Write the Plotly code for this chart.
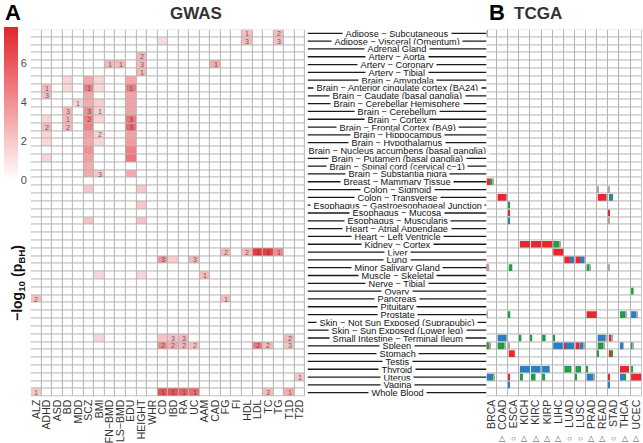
import plotly.graph_objects as go

W, H = 643, 443

tissues = [
    "Adipose − Subcutaneous", "Adipose − Visceral (Omentum)", "Adrenal Gland",
    "Artery − Aorta", "Artery − Coronary", "Artery − Tibial", "Brain − Amygdala",
    "Brain − Anterior cingulate cortex (BA24)", "Brain − Caudate (basal ganglia)",
    "Brain − Cerebellar Hemisphere", "Brain − Cerebellum", "Brain − Cortex",
    "Brain − Frontal Cortex (BA9)", "Brain − Hippocampus", "Brain − Hypothalamus",
    "Brain − Nucleus accumbens (basal ganglia)", "Brain − Putamen (basal ganglia)",
    "Brain − Spinal cord (cervical c−1)", "Brain − Substantia nigra",
    "Breast − Mammary Tissue", "Colon − Sigmoid", "Colon − Transverse",
    "Esophagus − Gastroesophageal Junction", "Esophagus − Mucosa",
    "Esophagus − Muscularis", "Heart − Atrial Appendage", "Heart − Left Ventricle",
    "Kidney − Cortex", "Liver", "Lung", "Minor Salivary Gland", "Muscle − Skeletal",
    "Nerve − Tibial", "Ovary", "Pancreas", "Pituitary", "Prostate",
    "Skin − Not Sun Exposed (Suprapubic)", "Skin − Sun Exposed (Lower leg)",
    "Small Intestine − Terminal Ileum", "Spleen", "Stomach", "Testis", "Thyroid",
    "Uterus", "Vagina", "Whole Blood",
]

gwas_traits = ["ALZ", "ADHD", "ASD", "BD", "MDD", "SCZ", "BMI", "FN−BMD", "LS−BMD",
               "EDU", "HEIGHT", "WHR", "CD", "IBD", "RA", "UC", "AAM", "CAD", "FG",
               "FI", "HDL", "LDL", "TC", "TG", "T1D", "T2D"]

# GWAS significant cells: tissue, trait, -log10(pBH), rank label
cell_tissue = []
cell_trait = []
cell_value = []
cell_label = []

def add(t, tr, v, lab=""):
    cell_tissue.append(t); cell_trait.append(tr); cell_value.append(v); cell_label.append(lab)

add("Adipose − Subcutaneous", "HDL", 2.4, "1"); add("Adipose − Subcutaneous", "TG", 2.4, "2")
add("Adipose − Visceral (Omentum)", "CD", 1.3); add("Adipose − Visceral (Omentum)", "HDL", 2.4, "3")
add("Adipose − Visceral (Omentum)", "TG", 2.2, "3")
add("Artery − Aorta", "HEIGHT", 2.6, "2")
add("Artery − Coronary", "FN−BMD", 2.5, "1"); add("Artery − Coronary", "LS−BMD", 2.5, "1")
add("Artery − Coronary", "HEIGHT", 2.5, "3"); add("Artery − Coronary", "CAD", 3.0, "1")
add("Artery − Tibial", "HEIGHT", 2.6, "1")
add("Brain − Amygdala", "BD", 1.5); add("Brain − Amygdala", "SCZ", 3.2)
add("Brain − Amygdala", "BMI", 1.5); add("Brain − Amygdala", "EDU", 3.2)
add("Brain − Anterior cingulate cortex (BA24)", "ADHD", 2.5, "1")
add("Brain − Anterior cingulate cortex (BA24)", "BD", 1.4)
add("Brain − Anterior cingulate cortex (BA24)", "SCZ", 4.8, "1")
add("Brain − Anterior cingulate cortex (BA24)", "BMI", 1.4)
add("Brain − Anterior cingulate cortex (BA24)", "EDU", 4.8, "1")
add("Brain − Caudate (basal ganglia)", "ADHD", 2.3, "3")
add("Brain − Caudate (basal ganglia)", "SCZ", 3.2)
add("Brain − Caudate (basal ganglia)", "EDU", 3.3)
add("Brain − Cerebellar Hemisphere", "MDD", 1.5, "1")
add("Brain − Cerebellar Hemisphere", "SCZ", 3.0)
add("Brain − Cerebellar Hemisphere", "BMI", 1.8)
add("Brain − Cerebellar Hemisphere", "EDU", 3.3)
add("Brain − Cerebellum", "BD", 2.5, "3"); add("Brain − Cerebellum", "SCZ", 4.0, "3")
add("Brain − Cerebellum", "BMI", 1.6, "1"); add("Brain − Cerebellum", "EDU", 3.3)
add("Brain − Cortex", "ADHD", 1.5); add("Brain − Cortex", "BD", 2.5, "1")
add("Brain − Cortex", "SCZ", 4.6, "2"); add("Brain − Cortex", "BMI", 1.5)
add("Brain − Cortex", "EDU", 5.0, "3")
add("Brain − Frontal Cortex (BA9)", "ADHD", 2.5, "2"); add("Brain − Frontal Cortex (BA9)", "BD", 2.5, "2")
add("Brain − Frontal Cortex (BA9)", "SCZ", 4.6); add("Brain − Frontal Cortex (BA9)", "EDU", 5.3, "3")
add("Brain − Hippocampus", "ADHD", 1.5); add("Brain − Hippocampus", "SCZ", 3.4)
add("Brain − Hippocampus", "BMI", 1.6, "2"); add("Brain − Hippocampus", "EDU", 3.4)
add("Brain − Hypothalamus", "ADHD", 1.4); add("Brain − Hypothalamus", "SCZ", 3.2)
add("Brain − Hypothalamus", "BMI", 1.4); add("Brain − Hypothalamus", "EDU", 3.6)
add("Brain − Nucleus accumbens (basal ganglia)", "SCZ", 4.0)
add("Brain − Nucleus accumbens (basal ganglia)", "EDU", 4.6)
add("Brain − Putamen (basal ganglia)", "ADHD", 1.5)
add("Brain − Putamen (basal ganglia)", "SCZ", 3.4)
add("Brain − Putamen (basal ganglia)", "EDU", 5.0)
add("Brain − Spinal cord (cervical c−1)", "SCZ", 3.0)
add("Brain − Substantia nigra", "SCZ", 3.0); add("Brain − Substantia nigra", "BMI", 2.0, "3")
add("Brain − Substantia nigra", "EDU", 3.0)
add("Colon − Sigmoid", "SCZ", 2.0); add("Colon − Sigmoid", "HEIGHT", 2.0)
add("Esophagus − Gastroesophageal Junction", "HEIGHT", 2.0)
add("Esophagus − Muscularis", "SCZ", 2.2); add("Esophagus − Muscularis", "HEIGHT", 2.2)
add("Liver", "FG", 2.5, "2"); add("Liver", "HDL", 2.5, "2"); add("Liver", "LDL", 7.0, "1")
add("Liver", "TC", 7.0, "1"); add("Liver", "TG", 4.2, "1")
add("Lung", "CD", 3.8, "3"); add("Lung", "IBD", 1.8); add("Lung", "UC", 2.5, "3")
add("Muscle − Skeletal", "BMI", 1.5); add("Muscle − Skeletal", "HEIGHT", 1.5)
add("Muscle − Skeletal", "AAM", 2.5, "1")
add("Pancreas", "ALZ", 2.2, "2"); add("Pancreas", "FG", 2.4, "1")
add("Small Intestine − Terminal Ileum", "BMI", 1.5); add("Small Intestine − Terminal Ileum", "CD", 2.2)
add("Small Intestine − Terminal Ileum", "IBD", 2.2, "3"); add("Small Intestine − Terminal Ileum", "RA", 2.5, "3")
add("Small Intestine − Terminal Ileum", "T1D", 2.5, "2")
add("Spleen", "CD", 4.2, "2"); add("Spleen", "IBD", 3.0, "2"); add("Spleen", "RA", 2.6, "2")
add("Spleen", "UC", 2.2, "2"); add("Spleen", "LDL", 4.8, "2"); add("Spleen", "TC", 2.6, "2")
add("Spleen", "T1D", 2.2, "3")
add("Uterus", "T2D", 2.0, "1")
add("Whole Blood", "ALZ", 2.0, "1"); add("Whole Blood", "CD", 6.2, "1"); add("Whole Blood", "IBD", 6.2, "1")
add("Whole Blood", "RA", 5.8, "1"); add("Whole Blood", "UC", 5.4, "1"); add("Whole Blood", "TC", 2.4, "3")
add("Whole Blood", "T1D", 3.0, "1")

# TCGA panel: fractions of red / blue / green / grey per cell
cancers = ["BRCA", "COAD", "ESCA", "KICH", "KIRC", "KIRP", "LIHC", "LUAD", "LUSC",
           "PRAD", "READ", "STAD", "THCA", "UCEC"]
cancer_symbols = ["", "△", "○", "△", "△", "△", "△", "○", "○", "△", "△", "○", "△", "△"]

tc_tissue = []; tc_cancer = []; tc_red = []; tc_blue = []; tc_green = []; tc_grey = []

def tc(t, c, r=0, b=0, g=0, gr=0):
    tc_tissue.append(t); tc_cancer.append(c); tc_red.append(r); tc_blue.append(b)
    tc_green.append(g); tc_grey.append(gr)

tc("Adipose − Subcutaneous", "BRCA", gr=0.15)
tc("Breast − Mammary Tissue", "BRCA", r=0.35, g=0.2, gr=0.1)
tc("Colon − Sigmoid", "READ", gr=0.08); tc("Colon − Sigmoid", "STAD", gr=0.08)
tc("Colon − Transverse", "COAD", r=0.85, gr=0.1); tc("Colon − Transverse", "READ", r=0.9, gr=0.06)
tc("Colon − Transverse", "STAD", b=0.25, g=0.15)
tc("Esophagus − Gastroesophageal Junction", "ESCA", g=0.12)
tc("Esophagus − Mucosa", "ESCA", r=0.1); tc("Esophagus − Mucosa", "STAD", r=0.1)
tc("Esophagus − Muscularis", "ESCA", b=0.1); tc("Esophagus − Muscularis", "STAD", gr=0.08)
tc("Kidney − Cortex", "KICH", r=1.0); tc("Kidney − Cortex", "KIRC", r=1.0)
tc("Kidney − Cortex", "KIRP", r=1.0); tc("Kidney − Cortex", "LIHC", g=0.6, gr=0.1)
tc("Liver", "LIHC", r=1.0)
tc("Lung", "LUAD", r=0.55, b=0.4); tc("Lung", "LUSC", r=0.45, b=0.4, gr=0.1)
tc("Minor Salivary Gland", "BRCA", r=0.12, gr=0.15); tc("Minor Salivary Gland", "ESCA", g=0.35)
tc("Minor Salivary Gland", "PRAD", g=0.3, gr=0.1); tc("Minor Salivary Gland", "STAD", gr=0.1)
tc("Ovary", "UCEC", g=0.25)
tc("Prostate", "BRCA", gr=0.15); tc("Prostate", "ESCA", g=0.15); tc("Prostate", "PRAD", r=1.0)
tc("Prostate", "THCA", g=0.55, gr=0.1); tc("Prostate", "UCEC", b=0.5, gr=0.1)
tc("Small Intestine − Terminal Ileum", "COAD", b=0.85, gr=0.1)
tc("Small Intestine − Terminal Ileum", "KICH", g=0.15)
tc("Small Intestine − Terminal Ileum", "KIRC", g=0.12)
tc("Small Intestine − Terminal Ileum", "KIRP", g=0.35)
tc("Small Intestine − Terminal Ileum", "LIHC", g=0.12)
tc("Small Intestine − Terminal Ileum", "READ", b=0.8, gr=0.1)
tc("Small Intestine − Terminal Ileum", "STAD", r=0.3, gr=0.1)
tc("Spleen", "BRCA", r=0.1, g=0.15, gr=0.1); tc("Spleen", "COAD", g=0.7, gr=0.1)
tc("Spleen", "ESCA", gr=0.1); tc("Spleen", "LIHC", b=0.95); tc("Spleen", "LUAD", r=0.15, b=0.8)
tc("Spleen", "LUSC", r=0.4, b=0.4, gr=0.1); tc("Spleen", "READ", g=0.55, gr=0.1)
tc("Spleen", "THCA", b=0.35); tc("Spleen", "UCEC", g=0.1, gr=0.1)
tc("Stomach", "ESCA", r=0.6); tc("Stomach", "READ", g=0.1); tc("Stomach", "STAD", r=0.25, g=0.15)
tc("Thyroid", "KICH", b=1.0); tc("Thyroid", "KIRC", b=0.95); tc("Thyroid", "KIRP", b=0.75)
tc("Thyroid", "LUAD", g=0.7); tc("Thyroid", "LUSC", g=0.55); tc("Thyroid", "PRAD", g=0.15)
tc("Thyroid", "THCA", r=0.9); tc("Thyroid", "UCEC", g=0.2)
tc("Uterus", "BRCA", b=0.55, g=0.15, gr=0.1); tc("Uterus", "ESCA", r=0.1)
tc("Uterus", "KICH", g=0.3); tc("Uterus", "KIRC", g=0.45); tc("Uterus", "KIRP", g=0.3)
tc("Uterus", "LUSC", g=0.1); tc("Uterus", "PRAD", b=0.65, gr=0.1); tc("Uterus", "STAD", r=0.1)
tc("Uterus", "THCA", b=0.4, g=0.15); tc("Uterus", "UCEC", r=1.0)
tc("Vagina", "ESCA", b=0.1); tc("Vagina", "STAD", b=0.1)

# ---------------- build figure ----------------
nT = len(tissues); nG = len(gwas_traits); nC = len(cancers)
rows = list(range(nT))
z = [[0.0] * nG for _ in rows]
txt = [[""] * nG for _ in rows]
for t, tr, v, lab in zip(cell_tissue, cell_trait, cell_value, cell_label):
    i = tissues.index(t); j = gwas_traits.index(tr)
    z[i][j] = v; txt[i][j] = lab

def px(x):
    return x / W

def py(y):
    return 1 - y / H

GRID = "#b4b4b4"
FONT = "Liberation Sans, Arial, sans-serif"
fig = go.Figure()

# GWAS grid underlay + heatmap
fig.add_trace(go.Heatmap(x=list(range(nG)), y=rows, z=[[1] * nG for _ in rows],
                         colorscale=[[0, GRID], [1, GRID]], showscale=False, hoverinfo="skip"))
fig.add_trace(go.Heatmap(
    x=list(range(nG)), y=rows, z=z, text=txt, texttemplate="%{text}",
    textfont=dict(size=7, color="rgba(70,70,70,0.85)", family=FONT),
    xgap=1, ygap=1, zmin=0, zmax=7.86,
    colorscale=[[0, "#ffffff"], [1, "#e3242b"]],
    colorbar=dict(x=px(4), xanchor="left", y=py(180), yanchor="bottom",
                  lenmode="pixels", len=153, thicknessmode="pixels", thickness=14,
                  xpad=0, ypad=0, outlinewidth=0, tickvals=[0, 2, 4, 6], ticks="",
                  tickfont=dict(size=11, color="#4d4d4d", family=FONT))))

# TCGA grid underlay + white cells
fig.add_trace(go.Heatmap(x=list(range(nC)), y=rows, z=[[1] * nC for _ in rows],
                         colorscale=[[0, GRID], [1, GRID]], showscale=False,
                         hoverinfo="skip", xaxis="x2", yaxis="y"))
fig.add_trace(go.Heatmap(x=list(range(nC)), y=rows, z=[[0] * nC for _ in rows],
                         colorscale=[[0, "#ffffff"], [1, "#ffffff"]], showscale=False,
                         xgap=1, ygap=1, hoverinfo="skip", xaxis="x2", yaxis="y"))

# stacked fractional bars inside each TCGA cell
inner = 1 - 1.0 / 11.1
seg_colors = [("red", tc_red, "#e8282e"), ("blue", tc_blue, "#2b7fc1"),
              ("green", tc_green, "#1f9e47"), ("grey", tc_grey, "#a8a8a8")]
cum = [0.0] * len(tc_tissue)
for name, vals, col in seg_colors:
    xs, bases, ys = [], [], []
    for k in range(len(tc_tissue)):
        if vals[k] > 0:
            c = cancers.index(tc_cancer[k])
            bases.append(c - inner / 2 + cum[k] * inner)
            xs.append(vals[k] * inner)
            ys.append(tissues.index(tc_tissue[k]))
        cum[k] += vals[k]
    fig.add_trace(go.Bar(x=xs, y=ys, base=bases, orientation="h", width=0.86,
                         marker=dict(color=col, line=dict(width=0)), name=name,
                         showlegend=False, xaxis="x2", yaxis="y"))

# middle label leader lines
lx, ly = [], []
for r in rows:
    lx += [0, 1, None]; ly += [r, r, None]
fig.add_trace(go.Scatter(x=lx, y=ly, mode="lines", line=dict(color="#1a1a1a", width=1.3),
                         hoverinfo="skip", showlegend=False, xaxis="x3", yaxis="y"))

annotations = []
for r, name in enumerate(tissues):
    annotations.append(dict(x=0.5, y=r, xref="x3", yref="y", text="\u00a0" + name + "\u00a0",
                            showarrow=False, bgcolor="white", borderpad=0, height=7,
                            font=dict(size=9.2, color="#111", family=FONT)))
for c, s in enumerate(cancer_symbols):
    if s:
        annotations.append(dict(x=c, y=py(438), xref="x2", yref="paper", text=s,
                                yanchor="middle", showarrow=False,
                                font=dict(size=8, color="#555", family=FONT)))

annotations += [
    dict(x=px(3), y=py(12), xref="paper", yref="paper", text="<b>A</b>", showarrow=False,
         xanchor="left", yanchor="middle", font=dict(size=22, color="#000", family=FONT)),
    dict(x=px(487), y=py(12), xref="paper", yref="paper", text="<b>B</b>", showarrow=False,
         xanchor="left", yanchor="middle", font=dict(size=22, color="#000", family=FONT)),
    dict(x=px(168), y=py(13), xref="paper", yref="paper", text="<b>GWAS</b>", showarrow=False,
         yanchor="middle", font=dict(size=17, color="#333", family=FONT)),
    dict(x=px(564), y=py(13), xref="paper", yref="paper", text="<b>TCGA</b>", showarrow=False,
         yanchor="middle", font=dict(size=17, color="#333", family=FONT)),
    dict(x=px(18), y=py(283), xref="paper", yref="paper", textangle=-90, showarrow=False,
         xanchor="center", yanchor="middle",
         text="<b>−log<sub>10</sub> (p<sub>BH</sub>)</b>", font=dict(size=14, color="#111", family=FONT)),
]

ydom = [py(396.6), py(29.4)]
fig.update_layout(
    width=W, height=H, margin=dict(l=0, r=0, t=0, b=0, autoexpand=False),
    paper_bgcolor="white", plot_bgcolor="white", barmode="overlay",
    font=dict(family=FONT),
    xaxis=dict(domain=[px(30.85), px(305.2)], range=[-0.5, nG - 0.5], tickmode="array",
               tickvals=list(range(nG)), ticktext=gwas_traits, tickangle=-90,
               tickfont=dict(size=10.5, color="#333"), showgrid=False, zeroline=False,
               ticks="", anchor="y", automargin=False),
    xaxis2=dict(domain=[px(486), px(641.7)], range=[-0.5, nC - 0.5], tickmode="array",
                tickvals=list(range(nC)), ticktext=cancers, tickangle=-90,
                tickfont=dict(size=10.5, color="#333"), showgrid=False, zeroline=False,
                ticks="", anchor="y", automargin=False),
    xaxis3=dict(domain=[px(307.5), px(486.5)], range=[0, 1], visible=False, anchor="y"),
    yaxis=dict(domain=ydom, range=[nT - 0.5, -0.5], showticklabels=False, showgrid=False,
               zeroline=False, ticks="", automargin=False),
    annotations=annotations,
)

fig.write_html("out.html", config={"displayModeBar": False},
               post_script="document.body.style.margin='0px';")
